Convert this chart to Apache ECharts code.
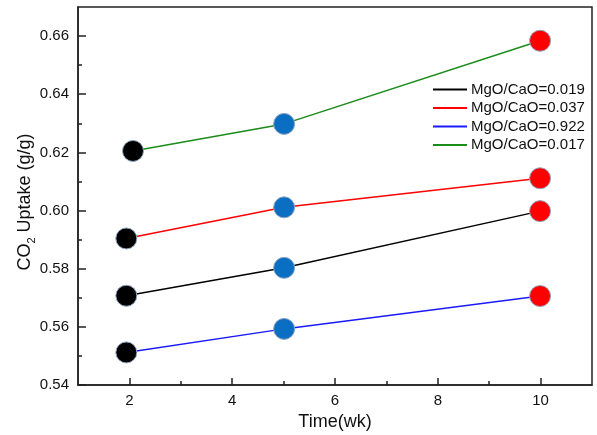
<!DOCTYPE html>
<html>
<head>
    <meta charset="utf-8">
    <script src="https://cdn.jsdelivr.net/npm/echarts@6/dist/echarts.min.js"></script>
</head>
<body style="margin:0;background:#fff">
<div id="main" style="width:597px;height:435px;"></div>
<script type="text/javascript">
    // values
    var seriesNames = ['MgO/CaO=0.019', 'MgO/CaO=0.037', 'MgO/CaO=0.922', 'MgO/CaO=0.017'];
    var timeWk = [
        [1.94, 5.01, 9.99],
        [1.94, 5.01, 9.99],
        [1.94, 5.01, 9.99],
        [2.07, 5.01, 9.99]
    ];
    var uptake = [
        [0.5707, 0.5803, 0.5998],
        [0.5904, 0.6011, 0.6111],
        [0.5512, 0.5593, 0.5706],
        [0.6205, 0.6298, 0.6584]
    ];
    var xMajor = [2, 4, 6, 8, 10];
    var xMinor = [3, 5, 7, 9];
    var yMajor = [0.54, 0.56, 0.58, 0.60, 0.62, 0.64, 0.66];
    var yMinor = [0.55, 0.57, 0.59, 0.61, 0.63, 0.65];

    var lineColors = ['#000000', '#ff0000', '#1a1aff', '#1a8c1a'];
    var markerColors = ['#000000', '#0a6fc2', '#ff0000'];
    var font = 'Liberation Sans, Arial, sans-serif';

    var myChart = echarts.init(document.getElementById('main'));

    var series = [];
    var legendData = [];
    for (var i = 0; i < seriesNames.length; i++) {
        var pts = [];
        for (var j = 0; j < timeWk[i].length; j++) {
            pts.push([timeWk[i][j], uptake[i][j]]);
        }
        series.push({
            name: seriesNames[i],
            type: 'line',
            data: pts,
            symbol: 'circle',
            symbolSize: 21,
            lineStyle: {color: lineColors[i], width: 1.5},
            itemStyle: {
                color: function (p) { return markerColors[p.dataIndex]; },
                borderColor: '#8fa3bf',
                borderWidth: 1
            },
            animation: false
        });
        legendData.push({
            name: seriesNames[i],
            icon: 'rect',
            itemStyle: {color: lineColors[i], borderWidth: 0}
        });
    }

    var option = {
        animation: false,
        grid: {
            left: 78, right: 5, top: 7, bottom: 50,
            outerBoundsMode: 'none',
            show: true, borderColor: '#222', borderWidth: 1.5
        },
        legend: {
            orient: 'vertical',
            left: 428,
            top: 77,
            itemWidth: 34,
            itemHeight: 2,
            itemGap: 3.5,
            data: legendData,
            textStyle: {fontFamily: font, fontSize: 15, color: '#111', lineHeight: 15, padding: [0, 0, 0, -1]}
        },
        xAxis: [{
            type: 'value',
            min: 1, max: 11,
            name: 'Time(wk)',
            nameLocation: 'middle',
            nameGap: 28,
            nameMoveOverlap: false,
            nameTextStyle: {fontFamily: font, fontSize: 18, color: '#111'},
            axisLine: {lineStyle: {color: '#222', width: 1.5}},
            axisTick: {inside: true, length: 7, customValues: xMajor, lineStyle: {color: '#222', width: 1.5}},
            axisLabel: {customValues: xMajor, fontFamily: font, fontSize: 15, color: '#111', margin: 8},
            splitLine: {show: false}
        }, {
            type: 'value',
            min: 1, max: 11,
            position: 'bottom',
            axisLine: {show: false},
            axisTick: {inside: true, length: 4, customValues: xMinor, lineStyle: {color: '#222', width: 1.5}},
            axisLabel: {show: false},
            splitLine: {show: false}
        }],
        yAxis: [{
            type: 'value',
            min: 0.54, max: 0.67,
            name: '{a|CO}{b|2}{a| Uptake (g/g)}',
            nameLocation: 'middle',
            nameGap: 44,
            nameMoveOverlap: false,
            nameTextStyle: {
                padding: [0, 12, 0, 0],
                rich: {
                    a: {fontFamily: font, fontSize: 18, color: '#111', lineHeight: 22, verticalAlign: 'bottom'},
                    b: {fontFamily: font, fontSize: 11, color: '#111', lineHeight: 22, verticalAlign: 'bottom', padding: [0, 0, -3, 0]}
                }
            },
            axisLine: {lineStyle: {color: '#222', width: 1.5}},
            axisTick: {inside: true, length: 8, customValues: yMajor, lineStyle: {color: '#222', width: 1.5}},
            axisLabel: {
                customValues: yMajor,
                fontFamily: font, fontSize: 15, color: '#111', margin: 9,
                formatter: function (v) { return v.toFixed(2); }
            },
            splitLine: {show: false}
        }, {
            type: 'value',
            min: 0.54, max: 0.67,
            position: 'left',
            axisLine: {show: false},
            axisTick: {inside: true, length: 4, customValues: yMinor, lineStyle: {color: '#222', width: 1.5}},
            axisLabel: {show: false},
            splitLine: {show: false}
        }],
        series: series
    };

    myChart.setOption(option);
</script>
</body>
</html>
